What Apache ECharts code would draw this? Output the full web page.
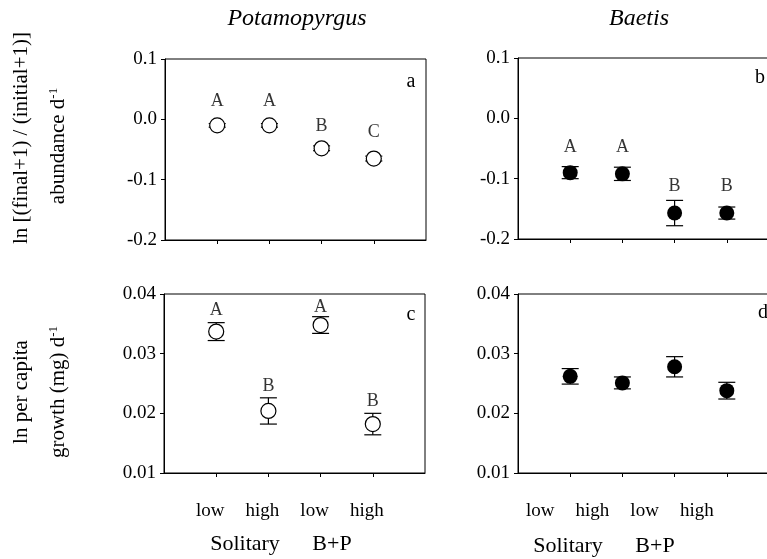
<!DOCTYPE html>
<html>
<head>
<meta charset="utf-8">
<script src="https://cdn.jsdelivr.net/npm/echarts@6/dist/echarts.min.js"></script>
<style>
  html, body { margin: 0; padding: 0; background: #fff; }
  #main { width: 767px; height: 559px; }
</style>
</head>
<body>
<div id="main"></div>
<script>
// treatments: Solitary low/high, B+P low/high
var xPos = [1, 2, 3, 4];
var levelLabels = ['low', 'high', 'low', 'high'];
var groupLabels = ['Solitary', 'B+P'];

// abundance change (top row)
var abundPota = [-0.010, -0.010, -0.048, -0.065];
var abundPotaErr = [0.003, 0.003, 0.004, 0.004];
var abundBaet = [-0.090, -0.092, -0.157, -0.157];
var abundBaetErr = [0.010, 0.011, 0.021, 0.010];

// growth (bottom row)
var growthPota = [0.0337, 0.0204, 0.0348, 0.0182];
var growthPotaErr = [0.0015, 0.0022, 0.0014, 0.0018];
var growthBaet = [0.0262, 0.0251, 0.0278, 0.0238];
var growthBaetErr = [0.0013, 0.0010, 0.0017, 0.0014];

// significance letters and where they sit (data units)
var lettersA = ['A', 'A', 'B', 'C'];
var lettersAY = [0.030, 0.030, -0.012, -0.021];
var lettersB = ['A', 'A', 'B', 'B'];
var lettersBY = [-0.048, -0.048, -0.113, -0.113];
var lettersC = ['A', 'B', 'A', 'B'];
var lettersCY = [0.0373, 0.0246, 0.0377, 0.0221];

var FONT = 'Liberation Serif';
var black = '#000';

function pairs(ys) {
	return xPos.map(function (x, i) { return [x, ys[i]]; });
}
function errData(ys, es) {
	return xPos.map(function (x, i) { return [x, ys[i] - es[i], ys[i] + es[i]]; });
}

function errorSeries(idx, ys, es) {
	return {
		type: 'custom',
		xAxisIndex: idx,
		yAxisIndex: idx,
		z: 2,
		silent: true,
		data: errData(ys, es),
		renderItem: function (params, api) {
			var lo = api.coord([api.value(0), api.value(1)]);
			var hi = api.coord([api.value(0), api.value(2)]);
			var w = 8.5;
			var st = { stroke: black, lineWidth: 1.2 };
			return {
				type: 'group',
				children: [
					{ type: 'line', shape: { x1: lo[0], y1: lo[1], x2: hi[0], y2: hi[1] }, style: st },
					{ type: 'line', shape: { x1: lo[0] - w, y1: lo[1], x2: lo[0] + w, y2: lo[1] }, style: st },
					{ type: 'line', shape: { x1: hi[0] - w, y1: hi[1], x2: hi[0] + w, y2: hi[1] }, style: st }
				]
			};
		}
	};
}

function pointSeries(idx, ys, open) {
	return {
		type: 'scatter',
		xAxisIndex: idx,
		yAxisIndex: idx,
		z: 3,
		symbol: 'circle',
		symbolSize: 15,
		data: pairs(ys),
		itemStyle: open
			? { color: '#fff', borderColor: black, borderWidth: 1.2, opacity: 1 }
			: { color: black, opacity: 1 },
		emphasis: { disabled: true }
	};
}

function letterSeries(idx, letters, ys) {
	return {
		type: 'scatter',
		xAxisIndex: idx,
		yAxisIndex: idx,
		z: 4,
		symbolSize: 1,
		itemStyle: { color: 'rgba(0,0,0,0)' },
		data: pairs(ys),
		label: {
			show: true,
			position: 'inside',
			formatter: function (p) { return letters[p.dataIndex]; },
			fontFamily: FONT,
			fontSize: 18,
			color: black
		}
	};
}

function xAxis(idx, showLabels, shift) {
	return {
		type: 'value',
		gridIndex: idx,
		min: 0,
		max: 5,
		interval: 1,
		axisLine: { onZero: false, lineStyle: { color: black, width: 1 } },
		axisTick: { show: true, inside: false, length: 4, customValues: xPos, lineStyle: { color: black } },
		splitLine: { show: false },
		axisLabel: {
			show: showLabels,
			customValues: xPos,
			margin: 29,
			padding: [0, shift * 2, 0, 0],
			formatter: function (v) { return levelLabels[Math.round(v) - 1] || ''; },
			fontFamily: FONT,
			fontSize: 19,
			color: black
		}
	};
}

function yAxis(idx, min, max, step, digits) {
	return {
		type: 'value',
		gridIndex: idx,
		min: min,
		max: max,
		interval: step,
		axisLine: { onZero: false, lineStyle: { color: black, width: 1 } },
		axisTick: { inside: false, length: 4, lineStyle: { color: black } },
		splitLine: { show: false },
		axisLabel: {
			margin: 8,
			formatter: function (v) { return v.toFixed(digits); },
			fontFamily: FONT,
			fontSize: 19,
			color: black
		}
	};
}

function gridBox(left, top, height) {
	return {
		left: left, top: top, width: 261, height: height,
		outerBoundsMode: 'none', containLabel: false,
		show: true, borderColor: black, borderWidth: 1, backgroundColor: 'transparent'
	};
}

function txt(x, y, text, size, italic) {
	return {
		type: 'text', x: x, y: y, silent: true,
		style: {
			text: text, fill: black, fontFamily: FONT, fontSize: size,
			fontStyle: italic ? 'italic' : 'normal',
			align: 'center', verticalAlign: 'middle'
		}
	};
}

function yTitle(x, y, text) {
	return {
		type: 'text',
		x: x,
		y: y,
		rotation: Math.PI / 2,
		silent: true,
		style: {
			text: text,
			fill: black,
			fontFamily: FONT,
			fontSize: 21,
			align: 'center',
			verticalAlign: 'middle',
			rich: {
				n: { fontFamily: FONT, fontSize: 21, fill: black },
				sup: { fontFamily: FONT, fontSize: 13, fill: black, verticalAlign: 'top', padding: [0, 0, 9, 0] }
			}
		}
	};
}

var myChart = echarts.init(document.getElementById('main'), null, { renderer: 'canvas' });
myChart.setOption({
	animation: false,
	backgroundColor: '#fff',
	grid: [
		gridBox(165, 59, 181),
		gridBox(518, 58, 181),
		gridBox(164, 294, 179),
		gridBox(518, 294, 179)
	],
	xAxis: [
		xAxis(0, false, 0),
		xAxis(1, false, 0),
		xAxis(2, true, 6),
		xAxis(3, true, 30)
	],
	yAxis: [
		yAxis(0, -0.2, 0.1, 0.1, 1),
		yAxis(1, -0.2, 0.1, 0.1, 1),
		yAxis(2, 0.01, 0.04, 0.01, 2),
		yAxis(3, 0.01, 0.04, 0.01, 2)
	],
	series: [
		errorSeries(0, abundPota, abundPotaErr),
		pointSeries(0, abundPota, true),
		letterSeries(0, lettersA, lettersAY),
		errorSeries(1, abundBaet, abundBaetErr),
		pointSeries(1, abundBaet, false),
		letterSeries(1, lettersB, lettersBY),
		errorSeries(2, growthPota, growthPotaErr),
		pointSeries(2, growthPota, true),
		letterSeries(2, lettersC, lettersCY),
		errorSeries(3, growthBaet, growthBaetErr),
		pointSeries(3, growthBaet, false)
	],
	graphic: [
		txt(297, 19, 'Potamopyrgus', 24, true),
		txt(639, 19, 'Baetis', 24, true),
		txt(411, 82, 'a', 20),
		txt(760, 78, 'b', 20),
		txt(411, 315, 'c', 20),
		txt(763, 313, 'd', 20),
		txt(245, 544, groupLabels[0], 22),
		txt(332, 544, groupLabels[1], 22),
		txt(568, 546, groupLabels[0], 22),
		txt(655, 546, groupLabels[1], 22),
		yTitle(21, 138, '{n|ln [(final+1) / (initial+1)]}'),
		yTitle(58, 146, '{n|abundance d}{sup|-1}'),
		yTitle(21, 392, '{n|ln per capita}'),
		yTitle(58, 392, '{n|growth (mg) d}{sup|-1}')
	]
});
</script>
</body>
</html>
